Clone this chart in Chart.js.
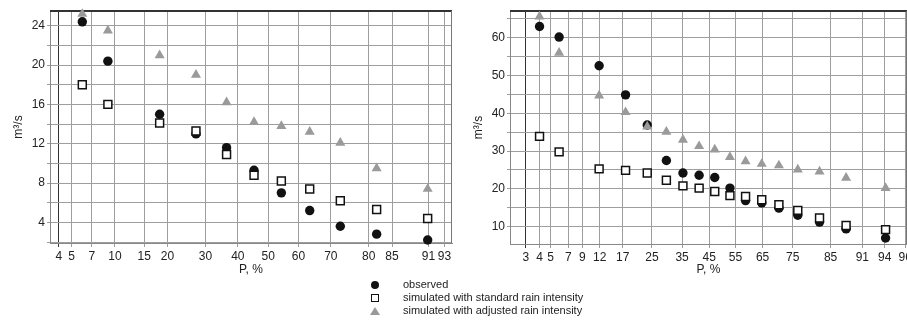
<!DOCTYPE html>
<html><head><meta charset="utf-8">
<script src="https://cdn.jsdelivr.net/npm/chart.js@4/dist/chart.umd.min.js"></script>
<style>
html,body{margin:0;padding:0;background:#fff;}
body{width:907px;height:321px;overflow:hidden;position:relative;font-family:"Liberation Sans",Arial,sans-serif;}
#c1{position:absolute;left:0;top:0;}
#c2{position:absolute;left:460px;top:0;}
.row{position:absolute;left:403px;height:13px;line-height:13px;font-size:11px;color:#222;white-space:nowrap;}
.mk{position:absolute;}
.circ{left:371px;width:8px;height:8px;border-radius:50%;background:#111;}
.sq{left:371px;width:6px;height:6px;border:1.5px solid #111;background:#fff;}
.tri{left:370px;width:0;height:0;border-left:5px solid transparent;border-right:5px solid transparent;border-bottom:8px solid #999;}
</style>
</head><body>
<canvas id="c1" width="460" height="282"></canvas>
<canvas id="c2" width="447" height="282"></canvas>
<div class="mk circ" style="top:281px"></div><div class="row" style="top:278px">observed</div>
<div class="mk sq" style="top:294px"></div><div class="row" style="top:291px">simulated with standard rain intensity</div>
<div class="mk tri" style="top:307px"></div><div class="row" style="top:304px">simulated with adjusted rain intensity</div>
<script>
// ---- data (left chart) ----
const leftTicks = [4, 5, 7, 10, 15, 20, 30, 40, 50, 60, 70, 80, 85, 91, 93];
const leftP = [6.0, 9.0, 18.2, 27.3, 36.4, 45.3, 54.4, 63.6, 72.7, 81.8, 90.9];
const leftObserved = [24.4, 20.4, 15.0, 13.0, 11.6, 9.3, 7.0, 5.2, 3.6, 2.8, 2.2];
const leftStandard = [18.0, 16.0, 14.1, 13.3, 10.9, 8.8, 8.2, 7.4, 6.2, 5.3, 4.4];
const leftAdjusted = [25.2, 23.5, 21.0, 19.0, 16.2, 14.2, 13.8, 13.2, 12.1, 9.5, 7.4];
const leftYGrid = [2, 4, 6, 8, 10, 12, 14, 16, 18, 20, 22, 24];
const leftYLabels = [4, 8, 12, 16, 20, 24];

// ---- data (right chart) ----
const rightTicks = [3, 4, 5, 7, 9, 12, 17, 25, 35, 45, 55, 65, 75, 85, 91, 94, 96];
const rightP = [4.0, 5.9, 11.9, 17.7, 23.6, 29.6, 35.3, 41.2, 47.1, 52.9, 58.8, 64.7, 70.6, 76.5, 82.4, 88.2, 94.1];
const rightObserved = [63.0, 60.2, 52.6, 44.9, 36.9, 27.5, 24.2, 23.6, 23.0, 20.2, 16.9, 16.3, 14.9, 13.0, 11.2, 9.4, 7.0];
const rightStandard = [33.9, 29.8, 25.3, 24.9, 24.2, 22.3, 20.8, 20.2, 19.3, 18.2, 18.0, 17.1, 15.8, 14.3, 12.3, 10.3, 9.2];
const rightAdjusted = [65.6, 56.0, 44.7, 40.3, 36.5, 35.1, 33.0, 31.3, 30.4, 28.4, 27.3, 26.6, 26.2, 25.1, 24.6, 22.9, 20.2];
const rightYGrid = [10, 15, 20, 25, 30, 35, 40, 45, 50, 55, 60, 65];
const rightYLabels = [10, 20, 30, 40, 50, 60];

// probability-paper transform (inverse normal CDF, Acklam)
function normInv(p){
  const a=[-3.969683028665376e+01,2.209460984245205e+02,-2.759285104469687e+02,1.383577518672690e+02,-3.066479806614716e+01,2.506628277459239e+00];
  const b=[-5.447609879822406e+01,1.615858368580409e+02,-1.556989798598866e+02,6.680131188771972e+01,-1.328068155288572e+01];
  const c=[-7.784894002430293e-03,-3.223964580411365e-01,-2.400758277161838e+00,-2.549732539343734e+00,4.374664141464968e+00,2.938163982698783e+00];
  const d=[7.784695709041462e-03,3.224671290700398e-01,2.445134137142996e+00,3.754408661907416e+00];
  const pl=0.02425, ph=1-pl; let q,r;
  if(p<pl){q=Math.sqrt(-2*Math.log(p));return (((((c[0]*q+c[1])*q+c[2])*q+c[3])*q+c[4])*q+c[5])/((((d[0]*q+d[1])*q+d[2])*q+d[3])*q+1);}
  if(p>ph){q=Math.sqrt(-2*Math.log(1-p));return -(((((c[0]*q+c[1])*q+c[2])*q+c[3])*q+c[4])*q+c[5])/((((d[0]*q+d[1])*q+d[2])*q+d[3])*q+1);}
  q=p-0.5;r=q*q;return (((((a[0]*r+a[1])*r+a[2])*r+a[3])*r+a[4])*r+a[5])*q/(((((b[0]*r+b[1])*r+b[2])*r+b[3])*r+b[4])*r+1);
}
const z = pct => normInv(pct/100);

const FONT = "'Liberation Sans', Arial, sans-serif";
const frame = {id:'frame', beforeDatasetsDraw(chart){
  const {ctx, chartArea:a} = chart;
  ctx.save();
  ctx.strokeStyle='#333'; ctx.lineWidth=2;
  ctx.beginPath(); ctx.moveTo(a.left, a.top); ctx.lineTo(a.right, a.top); ctx.stroke();
  ctx.strokeStyle='#777'; ctx.lineWidth=1;
  ctx.beginPath(); ctx.moveTo(a.right-0.5, a.top); ctx.lineTo(a.right-0.5, a.bottom); ctx.stroke();
  ctx.restore();
}};

function build(id, cfg){
  const pts = (P, V) => P.map((p,i)=>({x:z(p), y:V[i]}));
  new Chart(document.getElementById(id), {
    type:'scatter',
    data:{datasets:[
      {label:'simulated with adjusted rain intensity', data:pts(cfg.P,cfg.adj), pointStyle:'triangle', pointRadius:5.8, backgroundColor:'#9a9a9a', borderColor:'#9a9a9a', borderWidth:0, order:1, clip:false},
      {label:'simulated with standard rain intensity', data:pts(cfg.P,cfg.std), pointStyle:'rect', pointRadius:5.6, backgroundColor:'#fff', borderColor:'#111', borderWidth:1.5, order:2, clip:false},
      {label:'observed', data:pts(cfg.P,cfg.obs), pointStyle:'circle', pointRadius:4.7, backgroundColor:'#111', borderColor:'#111', borderWidth:0, order:3, clip:false}
    ]},
    options:{
      responsive:false, animation:false, devicePixelRatio:1, events:[],
      layout:{autoPadding:false, padding:{top:11, right:cfg.padRight, left:0, bottom:0}},
      plugins:{legend:{display:false}, tooltip:{enabled:false}},
      scales:{
        x:{type:'linear', min:z(cfg.xMin), max:z(cfg.xMax),
          afterBuildTicks: s => { s.ticks = cfg.ticks.map(t=>({value:z(t)})); },
          afterFit: s => { s.height = cfg.xH; s.paddingLeft = 0; s.paddingRight = 0; },
          ticks:{autoSkip:false, maxRotation:0, minRotation:0, padding:2, color:'#222', font:{family:FONT, size:12},
            callback:(v,i)=>String(cfg.ticks[i])},
          grid:{color: c => c.index===0 ? '#333' : '#9e9e9e', lineWidth:1, tickLength:4},
          border:{color:'#888'},
          title:{display:true, text:'P, %', color:'#222', font:{family:FONT, size:12}, padding:{top:0, bottom:5}}
        },
        y:{type:'linear', min:cfg.yMin, max:cfg.yMax,
          afterBuildTicks: s => { s.ticks = cfg.yGrid.map(v=>({value:v})); },
          afterFit: s => { s.width = 50; s.paddingTop = 0; s.paddingBottom = 0; },
          ticks:{padding:2, color:'#222', font:{family:FONT, size:12},
            callback: v => cfg.yLab.includes(v) ? String(v) : ''},
          grid:{color:'#9e9e9e', lineWidth:1, tickLength:3},
          border:{color:'#888'},
          title:{display:true, text:'m³/s', color:'#222', font:{family:FONT, size:12}, padding:{top:11, bottom:0}}
        }
      }
    },
    plugins:[frame]
  });
}

build('c1', {P:leftP, obs:leftObserved, std:leftStandard, adj:leftAdjusted, ticks:leftTicks,
  xMin:3.4, xMax:93.8, yMin:1.9, yMax:25.5, yGrid:leftYGrid, yLab:leftYLabels, padRight:8, xH:39});
build('c2', {P:rightP, obs:rightObserved, std:rightStandard, adj:rightAdjusted, ticks:rightTicks,
  xMin:2.1, xMax:96.15, yMin:5.4, yMax:67.1, yGrid:rightYGrid, yLab:rightYLabels, padRight:0, xH:38});
</script>
</body></html>
